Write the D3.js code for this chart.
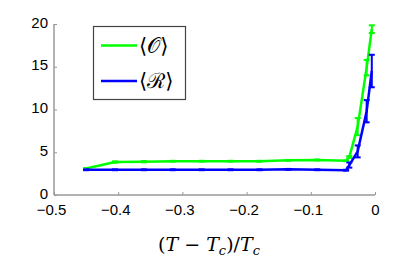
<!DOCTYPE html>
<html>
<head>
<meta charset="utf-8">
<script src="https://cdn.jsdelivr.net/npm/d3@7"></script>
<style>
body { margin: 0; background: #fff; }
svg text { font-family: "Liberation Sans", Arial, sans-serif; }
</style>
</head>
<body>
<svg id="chart" width="415" height="260"></svg>
<script>
// reduced temperature, shared by both series
var temps = [-0.45, -0.405, -0.36, -0.315, -0.27, -0.225, -0.18, -0.135, -0.09, -0.045, -0.04, -0.027, -0.013, -0.005];
// <O>
var oVals = [3.1, 3.85, 3.9, 3.95, 3.95, 3.95, 3.95, 4.05, 4.1, 4.0, 4.45, 8.0, 14.9, 19.4];
var oErrs = [0.05, 0.08, 0.08, 0.05, 0.05, 0.05, 0.05, 0.05, 0.05, 0.05, 0.1, 1.0, 0.9, 0.45];
// <R>
var rVals = [2.95, 2.95, 2.95, 2.95, 2.95, 2.95, 2.95, 3.0, 2.95, 2.9, 3.5, 5.1, 9.8, 14.5];
var rErrs = [0.05, 0.05, 0.05, 0.05, 0.05, 0.05, 0.05, 0.05, 0.05, 0.05, 0.3, 0.7, 1.3, 1.9];

var xTicks = [-0.5, -0.4, -0.3, -0.2, -0.1, 0];
var yTicks = [0, 5, 10, 15, 20];

var mLeft = 54, mRight = 375, mTop = 24, mBottom = 195;
var axisCol = "#999";

var svg = d3.select("#chart");

var sx = d3.scaleLinear().domain([-0.5, 0]).range([mLeft, mRight]);
var sy = d3.scaleLinear().domain([0, 20]).range([mBottom, mTop]);

// axes (box off, ticks pointing in)
var fmt = function(d) { return d == 0 ? "0" : d3.format(".1f")(d).replace("-", "\u2212"); };
var xAxis = svg.append("g").attr("transform", "translate(0," + mBottom + ")")
	.call(d3.axisTop(sx).tickValues(xTicks).tickSize(3).tickFormat(fmt));
xAxis.selectAll("text").attr("y", 20).attr("dy", null).attr("dx", function(d) { return d == 0 ? 0 : -3; })
	.style("font-size", "15px").style("fill", "#000");

var yAxis = svg.append("g").attr("transform", "translate(" + mLeft + ",0)")
	.call(d3.axisRight(sy).tickValues(yTicks).tickSize(3).tickFormat(d3.format("d")));
yAxis.selectAll("text").attr("x", -6).attr("dy", "0.2em").style("text-anchor", "end")
	.style("font-size", "15px").style("fill", "#000");

svg.selectAll(".domain").remove();
svg.selectAll(".tick line").style("stroke", axisCol);
svg.append("line").attr("x1", mLeft).attr("x2", mLeft).attr("y1", sy(20)).attr("y2", mBottom)
	.style("stroke", axisCol).style("stroke-width", 1.5);
svg.append("line").attr("x1", mLeft).attr("x2", mRight).attr("y1", mBottom).attr("y2", mBottom)
	.style("stroke", axisCol).style("stroke-width", 1.5);

function series(vals, errs, col) {
	var pts = temps.map(function(t, i) { return {x: t, y: vals[i], e: errs[i]}; });
	var line = d3.line().x(function(d) { return sx(d.x); }).y(function(d) { return sy(d.y); });
	svg.append("path").datum(pts).attr("d", line)
		.style("fill", "none").style("stroke", col).style("stroke-width", 2.5)
		.style("stroke-linejoin", "round");
	var g = svg.append("g");
	g.selectAll("line.bar").data(pts).enter().append("line")
		.attr("x1", function(d) { return sx(d.x); }).attr("x2", function(d) { return sx(d.x); })
		.attr("y1", function(d) { return sy(d.y - d.e); }).attr("y2", function(d) { return sy(d.y + d.e); })
		.style("stroke", col).style("stroke-width", 2);
	[-1, 1].forEach(function(s) {
		g.selectAll("line.cap" + s).data(pts).enter().append("line")
			.attr("x1", function(d) { return sx(d.x) - 3; }).attr("x2", function(d) { return sx(d.x) + 3; })
			.attr("y1", function(d) { return sy(d.y + s * d.e); }).attr("y2", function(d) { return sy(d.y + s * d.e); })
			.style("stroke", col).style("stroke-width", 2);
	});
}
series(oVals, oErrs, "#00ff00");
series(rVals, rErrs, "#0000ff");

// legend
var leg = svg.append("g");
leg.append("rect").attr("x", 93.5).attr("y", 26.5).attr("width", 92).attr("height", 73)
	.style("fill", "#fff").style("stroke", "#444").style("stroke-width", 1.2);
var items = [{name: "\uD835\uDCAA", col: "#00ff00", y: 45.5}, {name: "\u211B", col: "#0000ff", y: 81}];
items.forEach(function(it) {
	leg.append("line").attr("x1", 101).attr("x2", 137).attr("y1", it.y).attr("y2", it.y)
		.style("stroke", it.col).style("stroke-width", 2.5);
	var t = leg.append("text").attr("x", 139).attr("y", it.y + 7)
		.style("font-family", "'DejaVu Serif', serif").style("font-size", "21px");
	t.append("tspan").text("\u27E8");
	t.append("tspan").text(it.name);
	t.append("tspan").text("\u27E9");
});

// x label
var xl = svg.append("text").attr("x", 209).attr("y", 251).style("text-anchor", "middle")
	.style("font-family", "'DejaVu Serif', serif").style("font-size", "19px");
xl.append("tspan").text("(");
xl.append("tspan").style("font-style", "italic").text("T");
xl.append("tspan").text(" \u2212 ");
xl.append("tspan").style("font-style", "italic").text("T");
xl.append("tspan").style("font-style", "italic").style("font-size", "13px").attr("dy", 4).text("c");
xl.append("tspan").attr("dy", -4).text(")/");
xl.append("tspan").style("font-style", "italic").text("T");
xl.append("tspan").style("font-style", "italic").style("font-size", "13px").attr("dy", 4).text("c");
</script>
</body>
</html>
